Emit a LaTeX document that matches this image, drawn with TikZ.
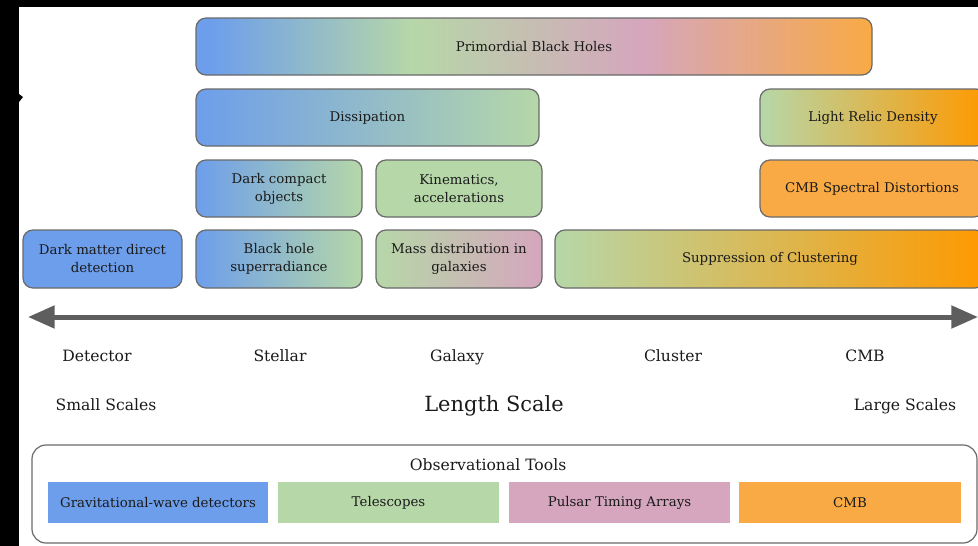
\documentclass[tikz,border=0pt]{standalone}
\usepackage{fontspec}
\setmainfont{DejaVu Serif}
\usetikzlibrary{arrows.meta}
\definecolor{cB}{HTML}{6D9EEB}
\definecolor{cG}{HTML}{B6D7A8}
\definecolor{cP}{HTML}{D5A6BD}
\definecolor{cO}{HTML}{F9AA45}
\definecolor{cOd}{HTML}{FF9900}
\definecolor{edge}{HTML}{6A6A6A}
\definecolor{ink}{HTML}{1A1A1A}
\definecolor{axisc}{HTML}{5E5E5E}
\pgfdeclarehorizontalshading{pbhshade}{100bp}{color(0bp)=(cB); color(26bp)=(cB); color(41bp)=(cG); color(58bp)=(cP); color(75bp)=(cO); color(100bp)=(cO)}
\newcommand\mybox[7]{\node[box,#6,minimum width={(#4-#2)*0.75pt},minimum height={(#5-#3)*0.75pt}] (#1) at ({(#2+#4)/2},{(#3+#5)/2}) {#7};}
\begin{document}
\begin{tikzpicture}[x=0.75pt,y=-0.75pt,
  box/.style={draw=edge, line width=0.9pt, rounded corners=7.5pt, inner sep=0pt, outer sep=0pt, align=center, text=ink, font=\fontsize{10}{13.5}\selectfont},
  toolbox/.style={inner sep=0pt, outer sep=0pt, text=ink, font=\fontsize{10}{13.5}\selectfont},
  lbl/.style={text=ink, inner sep=0pt, anchor=base, font=\fontsize{11.7}{14}\selectfont},
  axtip/.tip={Triangle[length=20pt,width=16.5pt]}
]
\useasboundingbox (0,0) rectangle (978,546);
\clip (0,0) rectangle (978,546);
\fill[white] (0,0) rectangle (978,546);
\fill[black] (0,0) rectangle (978,7);
\fill[black] (0,0) rectangle (19,546);
\fill[black] (19,94) -- (23,97) -- (19,102) -- cycle;

\mybox{pbh}{196}{18}{872}{75}{shade,shading=pbhshade}{Primordial Black Holes}
\mybox{diss}{196}{89}{539}{146}{left color=cB,right color=cG}{Dissipation}
\mybox{lrd}{760}{89}{986}{146}{left color=cG,right color=cOd}{Light Relic Density}
\mybox{dco}{196}{160}{362}{217}{left color=cB,right color=cG}{Dark compact\\objects}
\mybox{kin}{376}{160}{542}{217}{fill=cG}{Kinematics,\\accelerations}
\mybox{cmbsd}{760}{160}{984}{217}{fill=cO}{CMB Spectral Distortions}
\mybox{dmdd}{23}{230}{182}{288}{fill=cB}{Dark matter direct\\detection}
\mybox{bhs}{196}{230}{362}{288}{left color=cB,right color=cG}{Black hole\\superradiance}
\mybox{mdg}{376}{230}{542}{288}{left color=cG,right color=cP}{Mass distribution in\\galaxies}
\mybox{soc}{555}{230}{985}{288}{left color=cG,right color=cOd}{Suppression of Clustering}

\coordinate (aL) at (28,317);
\coordinate (aR) at (978,317);
\draw[axisc, line width=3.75pt, axtip-axtip] (aL) -- (aR);

\node[lbl] (det) at (97,361) {Detector};
\node[lbl] (ste) at (280,361) {Stellar};
\node[lbl] (gal) at (457,361) {Galaxy};
\node[lbl] (clu) at (673,361) {Cluster};
\node[lbl] (cmbl) at (865,361) {CMB};
\node[lbl] (small) at (106,410) {Small Scales};
\node[lbl, font=\fontsize{15.7}{18}\selectfont] (len) at (494,411) {Length Scale};
\node[lbl] (large) at (905,410) {Large Scales};

\node[draw=edge, line width=0.9pt, rounded corners=10.5pt, inner sep=0pt, minimum width={945*0.75pt}, minimum height={98*0.75pt}] (obs) at (504.5,494) {};
\node[lbl] (obst) at (488,470) {Observational Tools};
\node[toolbox, fill=cB, minimum width={220*0.75pt}, minimum height={41*0.75pt}] (gw) at (158,502.5) {Gravitational-wave detectors};
\node[toolbox, fill=cG, minimum width={221*0.75pt}, minimum height={41*0.75pt}] (tel) at (388.5,502.5) {Telescopes};
\node[toolbox, fill=cP, minimum width={221*0.75pt}, minimum height={41*0.75pt}] (pta) at (619.5,502.5) {Pulsar Timing Arrays};
\node[toolbox, fill=cO, minimum width={222*0.75pt}, minimum height={41*0.75pt}] (cmbt) at (850,502.5) {CMB};
\end{tikzpicture}
\end{document}
